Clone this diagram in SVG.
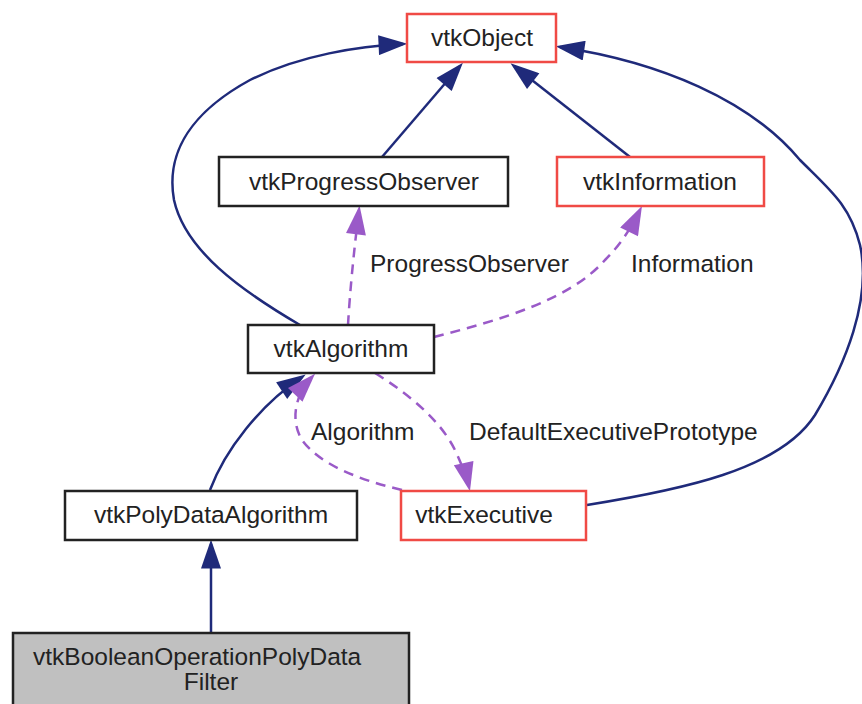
<svg xmlns="http://www.w3.org/2000/svg" width="862" height="704" viewBox="0 0 862 704">
<style>
text{font-family:"Liberation Sans",Arial,sans-serif;font-size:24.5px;fill:#222;}
.c{text-anchor:middle;}
.nb{fill:#fff;stroke:#222;stroke-width:2.5;}
.nr{fill:#fff;stroke:#f04a45;stroke-width:2.5;}
.ng{fill:#c0c0c0;stroke:#222;stroke-width:2.5;}
.inh{fill:none;stroke:#1f2a7a;stroke-width:2.5;marker-end:url(#an);}
.use{fill:none;stroke:#9a5ac8;stroke-width:2.5;stroke-dasharray:10,7;marker-end:url(#ap);}
</style>
<defs>
<marker id="an" markerUnits="userSpaceOnUse" markerWidth="30" markerHeight="20" refX="22" refY="9" orient="auto" viewBox="0 0 26 18">
<path d="M0,0 L26,9 L0,18 z" fill="#1f2a7a"/>
</marker>
<marker id="ap" markerUnits="userSpaceOnUse" markerWidth="30" markerHeight="20" refX="22" refY="9" orient="auto" viewBox="0 0 26 18">
<path d="M0,0 L26,9 L0,18 z" fill="#9a5ac8"/>
</marker>
</defs>
<rect width="862" height="704" fill="#fff"/>
<g id="edges">
<path class="inh" d="M382,157 L460,66"/>
<path class="inh" d="M630,157 L514,66"/>
<path class="inh" d="M300,325 C240,290 185,250 174,200 C165,150 195,110 250,80 C300,55 360,46 403,44"/>
<path class="inh" d="M587,505 C680,490 780,470 815,415 C845,365 872,300 860,245 C850,205 830,190 800,160 C750,100 660,62 560,47"/>
<path class="inh" d="M210,490 C225,450 260,405 302,377"/>
<path class="inh" d="M211,632 L211,544"/>
<path class="use" d="M348,325 C350,290 354,250 359,210"/>
<path class="use" d="M434,337 C500,320 570,300 605,260 C620,245 630,230 640,210"/>
<path class="use" d="M375,373 C410,395 440,420 455,450 C462,465 467,478 469,487"/>
<path class="use" d="M402,490 C360,480 320,465 302,440 C290,420 295,395 312,377"/>
</g>
<g id="vtkObject"><rect class="nr" x="407" y="14" width="149" height="48"/><text class="c" x="482" y="46">vtkObject</text></g>
<g id="vtkProgressObserver"><rect class="nb" x="219" y="157" width="289" height="49"/><text class="c" x="364" y="190">vtkProgressObserver</text></g>
<g id="vtkInformation"><rect class="nr" x="557" y="157" width="207" height="49"/><text class="c" x="660" y="190">vtkInformation</text></g>
<g id="vtkAlgorithm"><rect class="nb" x="248" y="325" width="186" height="48"/><text class="c" x="341" y="357">vtkAlgorithm</text></g>
<g id="vtkPolyDataAlgorithm"><rect class="nb" x="65" y="491" width="292" height="49"/><text class="c" x="211" y="523">vtkPolyDataAlgorithm</text></g>
<g id="vtkExecutive"><rect class="nr" x="401" y="491" width="185" height="49"/><text class="c" x="484" y="523">vtkExecutive</text></g>
<g id="vtkBooleanOperationPolyDataFilter"><rect class="ng" x="13" y="633" width="396" height="80"/><text x="33" y="665">vtkBooleanOperationPolyData</text><text class="c" x="211" y="690">Filter</text></g>
<g id="labels">
<text x="370" y="272">ProgressObserver</text>
<text x="631" y="272">Information</text>
<text x="311" y="440">Algorithm</text>
<text x="469" y="440">DefaultExecutivePrototype</text>
</g>
</svg>
